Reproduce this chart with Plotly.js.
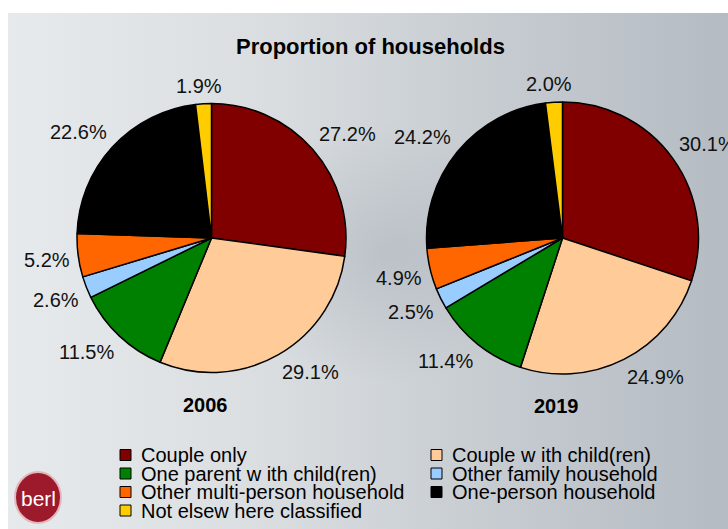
<!DOCTYPE html>
<html><head><meta charset="utf-8">
<script src="https://cdn.plot.ly/plotly-3.0.1.min.js"></script>
<style>
html,body{margin:0;padding:0;background:#fff;}
#wrap{position:relative;width:728px;height:529px;overflow:hidden;}
#bg{position:absolute;left:8px;top:13px;right:0;bottom:0;background:
 radial-gradient(ellipse 170px 130px at 380px 240px, rgba(150,158,168,0.35), rgba(150,158,168,0) 100%),
 linear-gradient(to right,#e7eaec 0%,#dadee1 35%,#c8cdd2 65%,#b4bbc2 100%);}
#chart{position:absolute;left:0;top:0;width:728px;height:529px;}
</style></head><body>
<div id="wrap"><div id="bg"></div><div id="chart"></div></div>
<script>
// ---- data ----
const categories = ['Couple only','Couple w ith child(ren)','One parent w ith child(ren)','Other family household','Other multi-person household','One-person household','Not elsew here classified'];
const values2006 = [27.2, 29.1, 11.5, 2.6, 5.2, 22.6, 1.9];
const values2019 = [30.1, 24.9, 11.4, 2.5, 4.9, 24.2, 2.0];
const years = ['2006', '2019'];
const colors = ['#800000','#FFCC99','#008000','#99CCFF','#FF6600','#000000','#FFCC00'];
const chartTitle = 'Proportion of households';

// ---- layout geometry ----
const W = 728, H = 529;
const FONT = 'Liberation Sans, Arial, sans-serif';
const px = x => x / W;
const py = y => 1 - y / H;
const pies = [
  {cx: 211.5, cy: 238, r: 134.5, vals: values2006},
  {cx: 562.5, cy: 238, r: 136, vals: values2019}
];

const ctx = document.createElement('canvas').getContext('2d');
ctx.font = '20px "Liberation Sans"';
const clamp = v => Math.max(-1, Math.min(1, v));

const traces = [];
const annotations = [];
const shapes = [];

pies.forEach((p, k) => {
  traces.push({
    type: 'pie', values: p.vals, labels: categories, name: years[k],
    sort: false, direction: 'clockwise', rotation: 0,
    textinfo: 'none', showlegend: false, hoverinfo: 'label+value',
    marker: {colors: colors, line: {color: '#000', width: 1.5}},
    domain: {x: [px(p.cx - p.r), px(p.cx + p.r)], y: [py(p.cy + p.r), py(p.cy - p.r)]}
  });
  const total = p.vals.reduce((a, b) => a + b, 0);
  let cum = 0;
  p.vals.forEach(v => {
    const mid = (cum + v / 2) / total * 2 * Math.PI;
    cum += v;
    const sx = Math.sin(mid), cy = Math.cos(mid);
    const txt = v.toFixed(1) + '%';
    const w = ctx.measureText(txt).width, h = 20;
    const R = p.r + 8;
    const x = p.cx + R * sx + (w / 2) * clamp(3 * sx);
    const y = p.cy - R * cy - (h / 2) * clamp(3 * cy);
    annotations.push({x: px(x), y: py(y), xref: 'paper', yref: 'paper', text: txt,
      showarrow: false, xanchor: 'center', yanchor: 'middle',
      font: {family: FONT, size: 20, color: '#111'}});
  });
  annotations.push({x: px(p.cx - 6), y: py(p.cy + p.r + 32), xref: 'paper', yref: 'paper',
    text: '<b>' + years[k] + '</b>', showarrow: false, xanchor: 'center', yanchor: 'middle',
    font: {family: FONT, size: 20, color: '#000'}});
});

// title
annotations.push({x: px(370), y: py(47), xref: 'paper', yref: 'paper', text: '<b>' + chartTitle + '</b>',
  showarrow: false, xanchor: 'center', yanchor: 'middle', font: {family: FONT, size: 22, color: '#000'}});

// legend (two columns, row-major)
const colX = [120, 431], rowY0 = 455, rowDY = 18.5, box = 11;
categories.forEach((c, i) => {
  const col = i % 2, row = Math.floor(i / 2);
  const x0 = colX[col], yc = rowY0 + row * rowDY;
  shapes.push({type: 'rect', xref: 'paper', yref: 'paper',
    x0: px(x0), x1: px(x0 + box), y0: py(yc + box / 2), y1: py(yc - box / 2),
    fillcolor: colors[i], line: {color: '#000', width: 1}});
  annotations.push({x: px(x0 + 19), y: py(yc), xref: 'paper', yref: 'paper', text: c,
    showarrow: false, xanchor: 'left', yanchor: 'middle', font: {family: FONT, size: 20, color: '#000'}});
});

// logo
shapes.push({type: 'circle', xref: 'paper', yref: 'paper', x0: px(15), x1: px(61), y0: py(523), y1: py(472),
  fillcolor: '#9c1a2b', line: {color: '#e3b7bd', width: 2}});
annotations.push({x: px(38), y: py(498), xref: 'paper', yref: 'paper', text: 'berl', showarrow: false,
  xanchor: 'center', yanchor: 'middle', font: {family: FONT, size: 21, color: '#fff'}});

const layout = {
  width: W, height: H, margin: {l: 0, r: 0, t: 0, b: 0},
  paper_bgcolor: 'rgba(0,0,0,0)', plot_bgcolor: 'rgba(0,0,0,0)',
  showlegend: false, annotations: annotations, shapes: shapes,
  font: {family: FONT}
};
Plotly.newPlot('chart', traces, layout, {displayModeBar: false, staticPlot: true});
</script>
</body></html>
